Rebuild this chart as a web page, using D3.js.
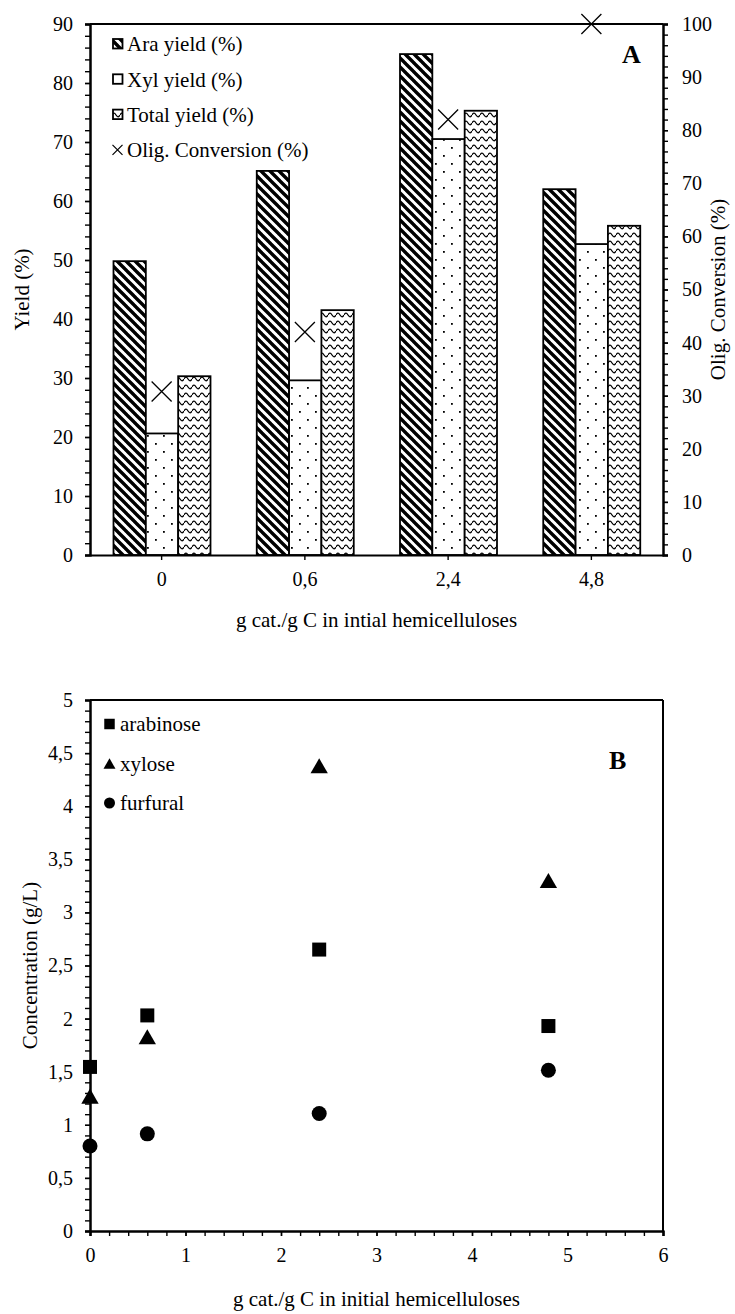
<!DOCTYPE html>
<html>
<head>
<meta charset="utf-8">
<script src="https://cdn.jsdelivr.net/npm/d3@7"></script>
<style>
  body { margin: 0; background: #fff; }
  svg { display: block; }
  text { font-family: "Liberation Serif", "Times New Roman", serif; fill: #000; }
</style>
</head>
<body>
<svg id="fig" width="735" height="1314"></svg>
<script>
// ---------- Panel A: yields and oligomer conversion per catalyst loading ----------
const loadings = ["0", "0,6", "2,4", "4,8"];
const araYield = [49.8, 65.1, 84.9, 62.0];
const xylYield = [20.6, 29.6, 70.5, 52.7];
const totalYield = [30.3, 41.5, 75.3, 55.8];
const oligConversion = [30.8, 42.0, 82.0, 100];
const yieldTicks = [0, 10, 20, 30, 40, 50, 60, 70, 80, 90];
const conversionTicks = [0, 10, 20, 30, 40, 50, 60, 70, 80, 90, 100];
const legendA = ["Ara yield (%)", "Xyl yield (%)", "Total yield (%)", "Olig. Conversion (%)"];

// ---------- Panel B: sugar and furfural concentrations ----------
const catLoading = [0, 0.6, 2.4, 4.8];
const arabinose = [1.545, 2.03, 2.65, 1.93];
const xylose = [1.27, 1.83, 4.38, 3.3];
const furfural = [0.80, 0.915, 1.107, 1.514];
const concTicks = [0, 0.5, 1, 1.5, 2, 2.5, 3, 3.5, 4, 4.5, 5];
const loadTicks = [0, 1, 2, 3, 4, 5, 6];
const legendB = ["arabinose", "xylose", "furfural"];

const svg = d3.select("#fig");
const FONT = 20;
const TITLE = 21;

// Fill patterns for the bars
const defs = svg.append("defs");
const hatch = defs.append("pattern").attr("id", "hatchAra")
  .attr("patternUnits", "userSpaceOnUse").attr("width", 9).attr("height", 9);
hatch.append("rect").attr("width", 9).attr("height", 9).attr("fill", "#fff");
hatch.append("path").attr("d", "M-1,-1L10,10M-1,8L1,10M8,-1L10,1")
  .attr("stroke", "#000").attr("stroke-width", 3.4);

const dots = defs.append("pattern").attr("id", "dotsXyl")
  .attr("patternUnits", "userSpaceOnUse").attr("width", 16).attr("height", 16);
dots.append("rect").attr("width", 16).attr("height", 16).attr("fill", "#fff");
dots.append("rect").attr("x", 3).attr("y", 3).attr("width", 1.8).attr("height", 1.8).attr("fill", "#000");
dots.append("rect").attr("x", 11).attr("y", 11).attr("width", 1.8).attr("height", 1.8).attr("fill", "#000");

const wave = defs.append("pattern").attr("id", "waveTotal")
  .attr("patternUnits", "userSpaceOnUse").attr("width", 8).attr("height", 8);
wave.append("rect").attr("width", 8).attr("height", 8).attr("fill", "#fff");
wave.append("path").attr("d", "M0,3C1.5,0.6 2.5,0.6 4,3C5.5,5.4 6.5,5.4 8,3")
  .attr("fill", "none").attr("stroke", "#000").attr("stroke-width", 1.3);

function styleAxis(g, labelSize) {
  g.attr("font-size", labelSize).attr("font-family", "Liberation Serif, Times New Roman, serif");
  g.select(".domain").attr("stroke", "#000").attr("stroke-width", 2);
  g.selectAll(".tick line").attr("stroke", "#000").attr("stroke-width", 1.4);
  g.selectAll(".tick text").attr("fill", "#000");
}

// ================= Panel A =================
const aL = 90, aR = 663, aT = 24, aB = 555;
const xA = d3.scaleBand().domain(loadings).range([aL, aR]);
const seriesKeys = ["ara", "xyl", "tot"];
const xInner = d3.scaleBand().domain(seriesKeys).range([23.5, 120.5]);
const yA = d3.scaleLinear().domain([0, 90]).range([aB, aT]);
const y2A = d3.scaleLinear().domain([0, 100]).range([aB, aT]);

const fills = { ara: "url(#hatchAra)", xyl: "url(#dotsXyl)", tot: "url(#waveTotal)" };
const values = { ara: araYield, xyl: xylYield, tot: totalYield };

const gA = svg.append("g");
seriesKeys.forEach(k => {
  gA.append("g").selectAll("rect")
    .data(loadings.map((c, i) => ({ c, v: values[k][i] })))
    .join("rect")
    .attr("x", d => xA(d.c) + xInner(k))
    .attr("width", xInner.bandwidth())
    .attr("y", d => yA(d.v))
    .attr("height", d => aB - yA(d.v))
    .attr("fill", fills[k])
    .attr("stroke", "#000")
    .attr("stroke-width", 1.8);
});

// Oligomer conversion markers on the secondary axis
const crossA = 10;
gA.append("g").selectAll("path")
  .data(loadings.map((c, i) => ({ c, v: oligConversion[i] })))
  .join("path")
  .attr("d", d => {
    const cx = xA(d.c) + xA.bandwidth() / 2, cy = y2A(d.v);
    return `M${cx - crossA},${cy - crossA}L${cx + crossA},${cy + crossA}M${cx - crossA},${cy + crossA}L${cx + crossA},${cy - crossA}`;
  })
  .attr("stroke", "#000").attr("stroke-width", 1.3).attr("fill", "none");

// Frame top
gA.append("line").attr("x1", aL).attr("x2", aR).attr("y1", aT).attr("y2", aT)
  .attr("stroke", "#000").attr("stroke-width", 2);

// Left axis: minor + major
gA.append("g").attr("transform", `translate(${aL},0)`)
  .call(d3.axisLeft(yA).tickValues(d3.range(0, 91, 2)).tickSize(5).tickFormat(""))
  .call(g => styleAxis(g, FONT));
gA.append("g").attr("transform", `translate(${aL},0)`)
  .call(d3.axisLeft(yA).tickValues(yieldTicks).tickSize(5).tickPadding(12).tickFormat(d3.format("d")))
  .call(g => styleAxis(g, FONT));

// Right axis
gA.append("g").attr("transform", `translate(${aR},0)`)
  .call(d3.axisRight(y2A).tickValues(d3.range(0, 101, 2)).tickSize(5).tickFormat(""))
  .call(g => styleAxis(g, FONT));
gA.append("g").attr("transform", `translate(${aR},0)`)
  .call(d3.axisRight(y2A).tickValues(conversionTicks).tickSize(5).tickPadding(14).tickFormat(d3.format("d")))
  .call(g => styleAxis(g, FONT));

// Bottom category axis
gA.append("g").attr("transform", `translate(0,${aB})`)
  .call(d3.axisBottom(xA).tickSize(5).tickPadding(12).tickSizeOuter(0))
  .call(g => styleAxis(g, FONT));

// Titles
gA.append("text").attr("transform", `translate(22,${(aT + aB) / 2}) rotate(-90)`)
  .attr("text-anchor", "middle").attr("dy", "0.35em").attr("font-size", TITLE).text("Yield (%)");
gA.append("text").attr("transform", `translate(718,${(aT + aB) / 2}) rotate(-90)`)
  .attr("text-anchor", "middle").attr("dy", "0.35em").attr("font-size", TITLE).text("Olig. Conversion (%)");
gA.append("text").attr("x", (aL + aR) / 2).attr("y", 627)
  .attr("text-anchor", "middle").attr("font-size", TITLE).text("g cat./g C in intial hemicelluloses");
gA.append("text").attr("x", 622).attr("y", 63)
  .attr("font-size", 26).attr("font-weight", "bold").text("A");

// Legend A
const legA = gA.append("g");
const legFills = [fills.ara, fills.xyl, fills.tot];
legendA.forEach((t, i) => {
  const cy = 44 + i * 35.3;
  if (i < 3) {
    legA.append("rect").attr("x", 113).attr("y", cy - 5).attr("width", 9.5).attr("height", 9.5)
      .attr("fill", legFills[i]).attr("stroke", "#000").attr("stroke-width", 1.8);
  } else {
    legA.append("path")
      .attr("d", `M112.5,${cy - 5}L122.5,${cy + 5}M112.5,${cy + 5}L122.5,${cy - 5}`)
      .attr("stroke", "#000").attr("stroke-width", 1.2);
  }
  legA.append("text").attr("x", 127).attr("y", cy).attr("dy", "0.35em")
    .attr("font-size", TITLE).text(t);
});

// ================= Panel B =================
const bL = 90, bR = 663, bT = 700, bB = 1231;
const xB = d3.scaleLinear().domain([0, 6]).range([bL, bR]);
const yB = d3.scaleLinear().domain([0, 5]).range([bB, bT]);
const commaLocale = d3.formatLocale({ decimal: ",", thousands: ".", grouping: [3], currency: ["", ""] });
const fmtComma = commaLocale.format("~f");

const gB = svg.append("g");

// Frame top and right
gB.append("line").attr("x1", bL).attr("x2", bR).attr("y1", bT).attr("y2", bT)
  .attr("stroke", "#000").attr("stroke-width", 2);
gB.append("line").attr("x1", bR).attr("x2", bR).attr("y1", bT).attr("y2", bB)
  .attr("stroke", "#000").attr("stroke-width", 2);

gB.append("g").attr("transform", `translate(${bL},0)`)
  .call(d3.axisLeft(yB).tickValues(d3.range(0, 50, 1).map(d => d / 10)).tickSize(5).tickFormat(""))
  .call(g => styleAxis(g, FONT));
gB.append("g").attr("transform", `translate(${bL},0)`)
  .call(d3.axisLeft(yB).tickValues(concTicks).tickSize(5).tickPadding(12).tickFormat(fmtComma))
  .call(g => styleAxis(g, FONT));
gB.append("g").attr("transform", `translate(0,${bB})`)
  .call(d3.axisBottom(xB).tickValues(d3.range(0, 31, 1).map(d => d / 5)).tickSize(5).tickFormat(""))
  .call(g => styleAxis(g, FONT));
gB.append("g").attr("transform", `translate(0,${bB})`)
  .call(d3.axisBottom(xB).tickValues(loadTicks).tickSize(5).tickPadding(12).tickFormat(fmtComma))
  .call(g => styleAxis(g, FONT));

// Symbol shapes; the triangle is shifted so its bounding box is centred on the point
function symbolOffset(type, size) {
  if (type !== d3.symbolTriangle) return 0;
  return Math.sqrt(size / (Math.sqrt(3) * 3)) / 2;
}
const markers = [
  { name: "arabinose", vals: arabinose, type: d3.symbolSquare, size: 196, legSize: 110 },
  { name: "xylose", vals: xylose, type: d3.symbolTriangle, size: 130, legSize: 62 },
  { name: "furfural", vals: furfural, type: d3.symbolCircle, size: 177, legSize: 95 }
];
markers.forEach(m => {
  const off = symbolOffset(m.type, m.size);
  gB.append("g").selectAll("path")
    .data(catLoading.map((x, i) => ({ x, v: m.vals[i] })))
    .join("path")
    .attr("transform", d => `translate(${xB(d.x)},${yB(d.v) + off})`)
    .attr("d", d3.symbol().type(m.type).size(m.size))
    .attr("fill", "#000");
});

// Legend B
legendB.forEach((t, i) => {
  const cy = 724 + i * 39.5;
  const off = symbolOffset(markers[i].type, markers[i].legSize);
  gB.append("path").attr("transform", `translate(109.5,${cy + off})`)
    .attr("d", d3.symbol().type(markers[i].type).size(markers[i].legSize)).attr("fill", "#000");
  gB.append("text").attr("x", 120).attr("y", cy).attr("dy", "0.35em")
    .attr("font-size", TITLE).text(t);
});

gB.append("text").attr("transform", `translate(30,${(bT + bB) / 2}) rotate(-90)`)
  .attr("text-anchor", "middle").attr("dy", "0.35em").attr("font-size", TITLE).text("Concentration (g/L)");
gB.append("text").attr("x", (bL + bR) / 2).attr("y", 1306)
  .attr("text-anchor", "middle").attr("font-size", TITLE).text("g cat./g C in initial hemicelluloses");
gB.append("text").attr("x", 609).attr("y", 769)
  .attr("font-size", 26).attr("font-weight", "bold").text("B");
</script>
</body>
</html>
